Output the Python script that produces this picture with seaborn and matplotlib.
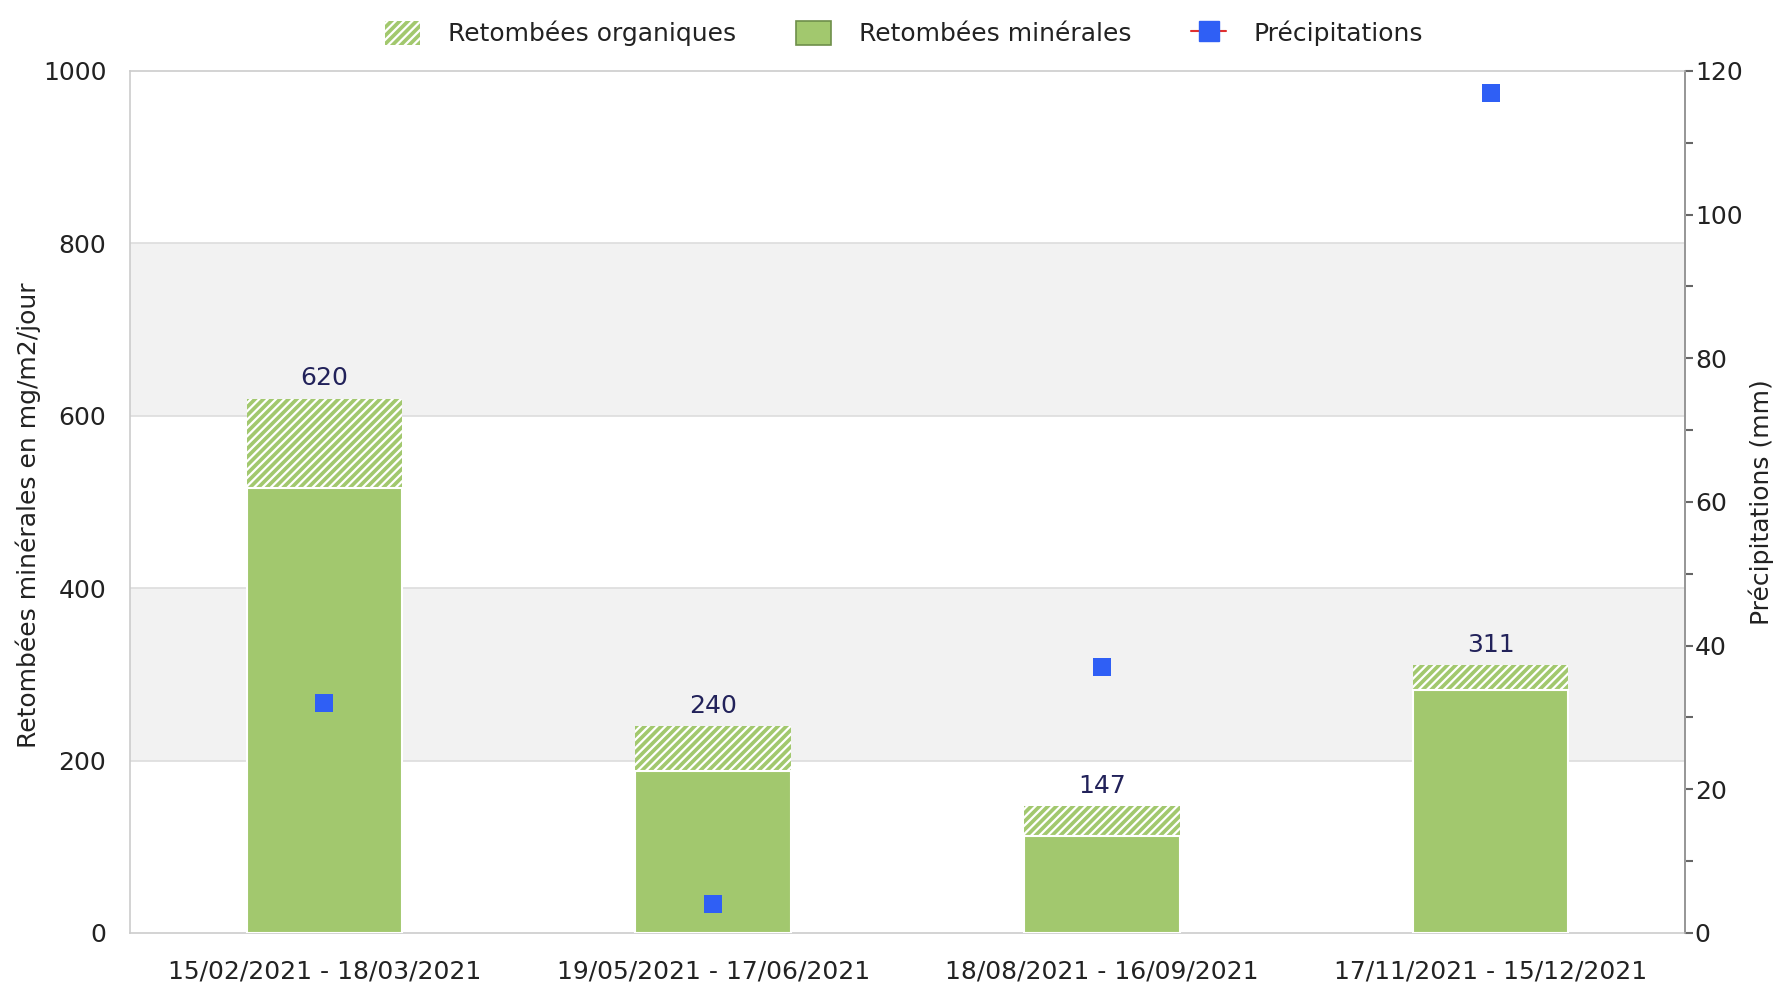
import matplotlib
matplotlib.use("Agg")
import matplotlib.pyplot as plt
import seaborn as sns
import pandas as pd
from matplotlib.patches import Patch
from matplotlib.lines import Line2D
from matplotlib.ticker import MultipleLocator

categories = ["15/02/2021 - 18/03/2021", "19/05/2021 - 17/06/2021",
              "18/08/2021 - 16/09/2021", "17/11/2021 - 15/12/2021"]
totals = [620, 240, 147, 311]
minerales = [516, 188, 112, 282]
precipitations = [32, 4, 37, 117]

sns.set_theme(style="white")
plt.rcParams['font.family'] = ['DejaVu Sans']
plt.rcParams['hatch.linewidth'] = 1.6

GREEN = "#A2C86E"
BLUE = "#2F5FF5"
LABEL_COLOR = "#22225A"
TEXT = "#222222"
FS = 18

df = pd.DataFrame({"periode": categories, "total": totals,
                   "minerales": minerales, "precip": precipitations})

fig = plt.figure(figsize=(17.73, 9.82), dpi=100)
ax = fig.add_axes([0.0733, 0.0499, 0.8771, 0.8778])

# background bands
for lo, hi in [(200, 400), (600, 800)]:
    ax.axhspan(lo, hi, color="#F2F2F2", zorder=0, lw=0)
for yv in [200, 400, 600, 800]:
    ax.axhline(yv, color="#DDDDDD", lw=1.2, zorder=0.5)

sns.barplot(data=df, x="periode", y="total", color=GREEN, saturation=1,
            width=0.4, hatch="////", edgecolor="white", linewidth=0,
            ax=ax, zorder=2)
sns.barplot(data=df, x="periode", y="minerales", color=GREEN, saturation=1,
            width=0.4, edgecolor="white", linewidth=1.5, ax=ax, zorder=3)

for i, t in enumerate(totals):
    ax.annotate(str(t), (i, t), xytext=(0, 6), textcoords="offset points",
                ha="center", va="bottom", fontsize=FS, color=LABEL_COLOR)

ax.set_xlim(-0.5, 3.5)
ax.set_ylim(0, 1000)
ax.yaxis.set_major_locator(MultipleLocator(200))
ax.tick_params(axis="y", length=0, pad=17, labelsize=FS, labelcolor=TEXT)
ax.tick_params(axis="x", length=0, pad=19, labelsize=FS, labelcolor=TEXT)
ax.set_xlabel("")
ax.set_ylabel("Retombées minérales en mg/m2/jour", fontsize=FS, color=TEXT, labelpad=2)
ax.yaxis.set_label_coords(-0.057, 0.485)
for s in ["top", "left", "bottom"]:
    ax.spines[s].set_color("#CCCCCC")
    ax.spines[s].set_linewidth(1.2)

ax2 = ax.twinx()
sns.scatterplot(x=list(range(len(categories))), y=precipitations, marker="s",
                s=150, color=BLUE, edgecolor=BLUE, linewidth=0, ax=ax2, zorder=5)
ax2.set_ylim(0, 120)
ax2.set_xlim(-0.5, 3.5)
ax2.yaxis.set_major_locator(MultipleLocator(20))
ax2.yaxis.set_minor_locator(MultipleLocator(10))
ax2.tick_params(axis="y", which="both", right=True, direction="out", length=6,
                width=1.5, color="#666666", pad=1, labelsize=FS, labelcolor=TEXT)
ax2.set_ylabel("Précipitations (mm)", fontsize=FS, color=TEXT, labelpad=4)
for s in ["top", "left", "bottom"]:
    ax2.spines[s].set_visible(False)
ax2.spines["right"].set_color("#AAAAAA")
ax2.spines["right"].set_linewidth(1.2)

handles = [
    Patch(facecolor=GREEN, edgecolor="white", hatch="////", linewidth=0),
    Patch(facecolor=GREEN, edgecolor="#6E8F4A", linewidth=1.2),
    Line2D([0], [0], color="#E03030", lw=1.5, marker="s", markersize=14,
           markerfacecolor=BLUE, markeredgecolor=BLUE),
]
labels = ["Retombées organiques", "Retombées minérales", "Précipitations"]
fig.legend(handles, labels, loc="center", bbox_to_anchor=(0.51, 0.966), ncol=3,
           frameon=False, fontsize=FS, handlelength=1.4, handleheight=1.1,
           columnspacing=2.4, handletextpad=1.1)
for t in fig.legends[0].get_texts():
    t.set_color(TEXT)

fig.savefig("out.png", dpi=100)
